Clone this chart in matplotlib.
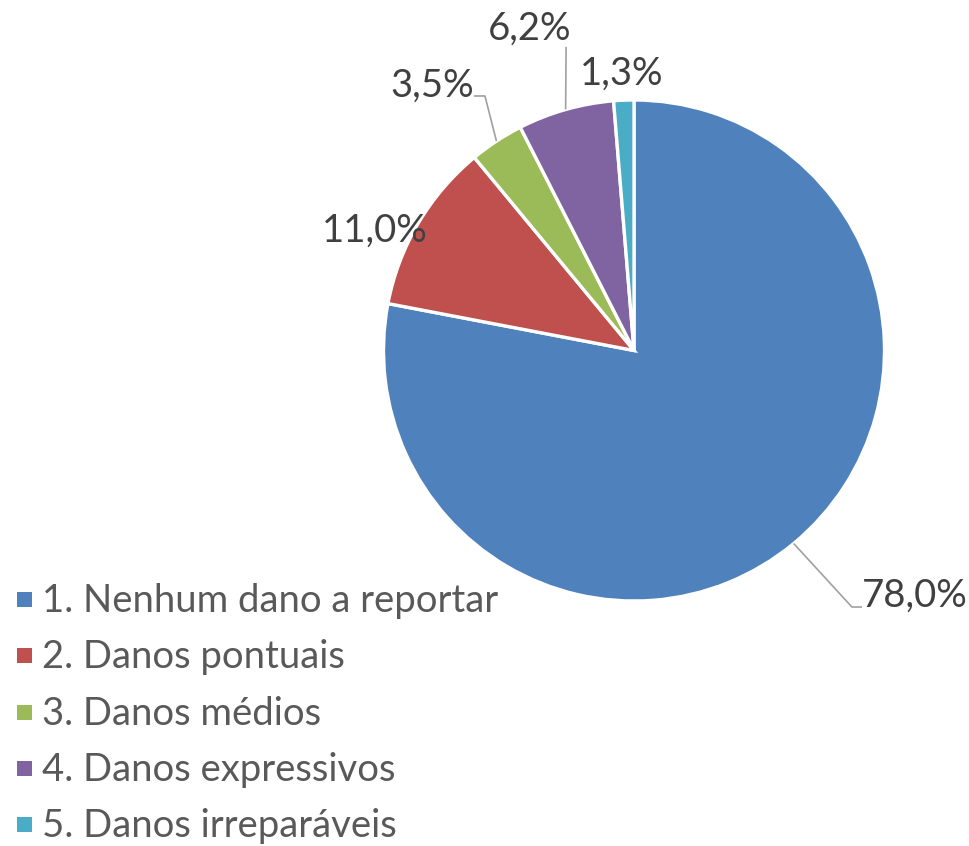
import matplotlib
matplotlib.use('Agg')
import matplotlib.pyplot as plt
from matplotlib.patches import Rectangle
import numpy as np

categories = ['1. Nenhum dano a reportar', '2. Danos pontuais', '3. Danos médios',
              '4. Danos expressivos', '5. Danos irreparáveis']
shares = [78.0, 11.0, 3.5, 6.2, 1.3]
colors = ['#4F81BD', '#C0504D', '#9BBB59', '#8064A2', '#4BACC6']

# label placement (x centre, baseline y) in pie units, radius = 1
label_pos = [(1.122, -1.024), (-1.034, 0.433), (-0.806, 1.012), (-0.415, 1.240), (-0.048, 1.060)]
# leader line bends, None = no leader
leaders = [[(0.870, -1.024), (0.910, -1.024)],
           None,
           [(-0.595, 1.016), (-0.639, 1.016)],
           [(-0.271, 1.212)],
           None]

plt.rcParams['font.family'] = ['Lato', 'DejaVu Sans']

W, H = 970, 846
fig = plt.figure(figsize=(W / 100, H / 100), dpi=100)

cx, cy, r = 634, 350.5, 250.5
ax = fig.add_axes([(cx - r) / W, 1 - (cy + r) / H, 2 * r / W, 2 * r / H])

wedges, _ = ax.pie(shares, colors=colors, startangle=90, counterclock=False, radius=1,
                   wedgeprops=dict(edgecolor='white', linewidth=2.4))
ax.set_xlim(-1, 1)
ax.set_ylim(-1, 1)
ax.axis('off')

for i, w in enumerate(wedges):
    mid = np.deg2rad((w.theta1 + w.theta2) / 2)
    tx, ty = label_pos[i]
    txt = f'{shares[i]:.1f}%'.replace('.', ',')
    ax.text(tx, ty, txt, ha='center', va='baseline', fontsize=27.5, color='#404040', clip_on=False)
    if leaders[i] is not None:
        pts = [(np.cos(mid), np.sin(mid))] + leaders[i]
        xs, ys = zip(*pts)
        ax.plot(xs, ys, color='#A0A0A0', lw=1.2, clip_on=False, solid_capstyle='butt')

# legend
base0, step = 612, 56.3
for i, name in enumerate(categories):
    by = base0 + i * step
    fig.patches.append(Rectangle((17 / W, 1 - (by - 5) / H), 15 / W, 15 / H,
                                 transform=fig.transFigure, facecolor=colors[i], edgecolor='none'))
    fig.text(42 / W, 1 - by / H, name, ha='left', va='baseline', fontsize=27.5, color='#595959')

fig.savefig('out.png', dpi=100)
